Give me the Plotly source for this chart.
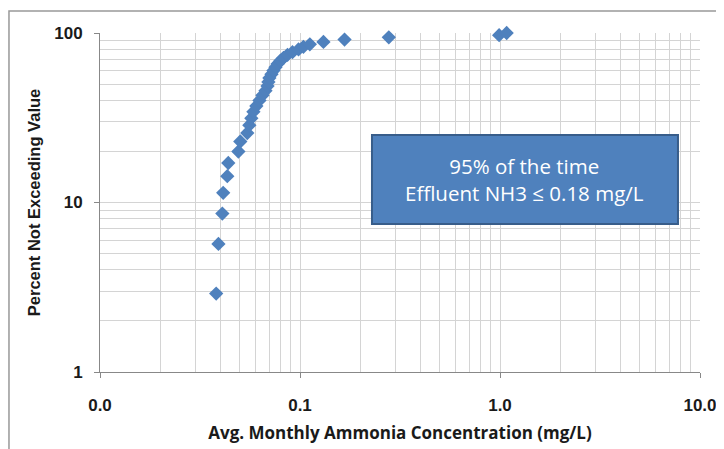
import plotly.graph_objects as go

# Avg. monthly ammonia concentration (mg/L), sorted
concentration = [0.0381, 0.0391, 0.0409, 0.0413, 0.0433, 0.0438, 0.0492, 0.0503, 0.0545, 0.0558,
                 0.0571, 0.0585, 0.0605, 0.0627, 0.0649, 0.0672, 0.0688, 0.0695, 0.0703, 0.0720,
                 0.0737, 0.0754, 0.0772, 0.0799, 0.0827, 0.0866, 0.0917, 0.0983, 0.104, 0.112,
                 0.131, 0.167, 0.278, 0.99, 1.08]
# Percent not exceeding value
percent = [2.9, 5.7, 8.6, 11.4, 14.3, 17.1, 20.0, 22.9, 25.7, 28.6,
           31.4, 34.3, 37.1, 40.0, 42.9, 45.7, 48.6, 51.4, 54.3, 57.1,
           60.0, 62.9, 65.7, 68.6, 71.4, 74.3, 77.1, 80.0, 82.9, 85.7,
           88.6, 91.4, 94.3, 97.1, 100.0]

x_tickvals = [0.01, 0.1, 1, 10]
x_ticktext = ["0.0", "0.1", "1.0", "10.0"]
y_tickvals = [1, 10, 100]
y_ticktext = ["1", "10", "100"]
x_minor = [m * d for d in [0.01, 0.1, 1] for m in range(2, 10)]
y_minor = [m * d for d in [1, 10] for m in range(2, 10)]

BLUE = "#4F81BD"
GRID = "#D4D4D4"

fig = go.Figure()
fig.add_trace(go.Scatter(
    x=concentration, y=percent, mode="markers",
    marker=dict(symbol="diamond", size=11, color=BLUE, line=dict(width=0)),
    showlegend=False, cliponaxis=False,
))

fig.update_xaxes(
    type="log", range=[-2, 1], automargin=False,
    tickmode="array", tickvals=x_tickvals, ticktext=x_ticktext,
    tickfont=dict(family="Liberation Sans", size=17, color="#1a1a1a", weight="bold"),
    ticks="outside", ticklen=5, tickcolor="#888888",
    showline=True, linecolor="#888888", linewidth=1,
    showgrid=True, gridcolor=GRID, gridwidth=1,
    minor=dict(tickvals=x_minor, showgrid=True, gridcolor=GRID, gridwidth=1, ticks=""),
    title=dict(text="Avg. Monthly Ammonia Concentration (mg/L)",
               font=dict(family="Open Sans", size=17, color="#1a1a1a", weight="bold"),
               standoff=12),
    zeroline=False, ticklabelstandoff=13,
)
fig.update_yaxes(
    type="log", range=[0, 2], automargin=False,
    tickmode="array", tickvals=y_tickvals, ticktext=y_ticktext,
    tickfont=dict(family="Liberation Sans", size=17, color="#1a1a1a", weight="bold"),
    ticks="outside", ticklen=5, tickcolor="#888888",
    showline=True, linecolor="#888888", linewidth=1,
    showgrid=True, gridcolor=GRID, gridwidth=1,
    minor=dict(tickvals=y_minor, showgrid=True, gridcolor=GRID, gridwidth=1, ticks=""),
    title=dict(text="Percent Not Exceeding Value",
               font=dict(family="Liberation Sans", size=16.5, color="#1a1a1a", weight="bold"),
               standoff=9),
    zeroline=False, ticklabelstandoff=8,
)

# annotation box
fig.add_shape(type="rect", xref="paper", yref="paper",
              x0=0.4533, x1=0.9633, y0=0.4366, y1=0.699,
              fillcolor=BLUE, line=dict(color="#385D8A", width=2), layer="above")
fig.add_annotation(xref="paper", yref="paper", x=0.708, y=0.5678,
                   xanchor="center", yanchor="middle",
                   text="95% of the time<br>Effluent NH3 ≤ 0.18 mg/L",
                   showarrow=False, align="center",
                   font=dict(family="Open Sans", size=20.5, color="white"))

# outer chart frame
fig.add_shape(type="rect", xref="paper", yref="paper",
              x0=-0.1517, x1=1.2, y0=-0.3, y1=1.065,
              line=dict(color="#999999", width=1.5), fillcolor="rgba(0,0,0,0)", layer="below")

# page body has an 8px margin: size the figure so the plot area lands on the reference pixels
fig.update_layout(
    width=716, height=441,
    margin=dict(l=92, r=24, t=25, b=77, autoexpand=False),
    paper_bgcolor="white", plot_bgcolor="white",
)

fig.write_html("out.html")
